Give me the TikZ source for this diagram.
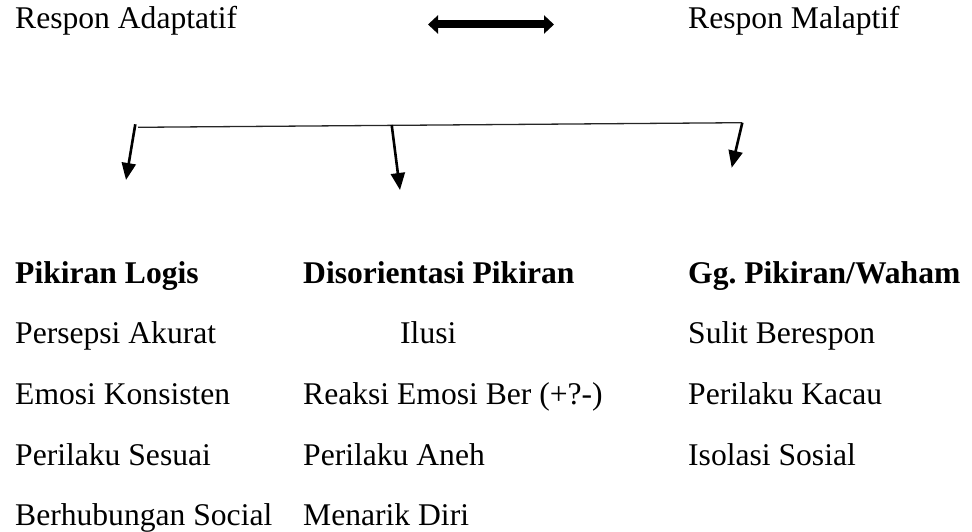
\documentclass[tikz,border=0pt]{standalone}
\usepackage{fontspec}
\setmainfont{Liberation Serif}
\usetikzlibrary{arrows.meta}
\frenchspacing
\begin{document}
\begin{tikzpicture}[x=1pt,y=-1pt,
  txt/.style={anchor=base west,inner sep=0pt,font=\fontsize{31.6}{38}\selectfont},
  hdr/.style={txt,font=\fontsize{31.6}{38}\selectfont\bfseries},
  bigarrow/.style={line width=8pt,{Triangle[length=10pt,width=18pt]}-{Triangle[length=10pt,width=18pt]}},
  branch/.style={line width=1.3pt,black!85},
  downarrow/.style={line width=2.6pt,-{Triangle[length=17pt,width=14pt]}}]
\useasboundingbox (0,0) rectangle (972,532);
\node[txt] (ra) at (15,29) {Respon Adaptatif};
\node[txt] (rm) at (688,29) {Respon Malaptif};
\coordinate (dl) at (428,24.5);
\coordinate (dr) at (554,24.5);
\draw[bigarrow] (dl) -- (dr);
% branch line
\coordinate (bl) at (138,127.3);
\coordinate (br) at (742,122.7);
\draw[branch] (bl) -- (br);
\coordinate (s1) at (135.3,124.3);
\coordinate (t1) at (126,180);
\coordinate (s2) at (391.7,125);
\coordinate (t2) at (400,190);
\coordinate (s3) at (742.3,122.7);
\coordinate (t3) at (731.7,167.7);
\draw[downarrow] (s1) -- (t1);
\draw[downarrow] (s2) -- (t2);
\draw[downarrow] (s3) -- (t3);
% headers
\node[hdr] (h1) at (15,283) {Pikiran Logis};
\node[hdr] (h2) at (303,283) {Disorientasi Pikiran};
\node[hdr] (h3) at (688,283) {Gg. Pikiran/Waham};
% column 1
\node[txt] (a1) at (15,343) {Persepsi Akurat};
\node[txt] (a2) at (15,404) {Emosi Konsisten};
\node[txt] (a3) at (15,465) {Perilaku Sesuai};
\node[txt] (a4) at (15,525) {Berhubungan Social};
% column 2
\node[txt] (b1) at (400,343) {Ilusi};
\node[txt] (b2) at (303,404) {Reaksi Emosi Ber (+?-)};
\node[txt] (b3) at (303,465) {Perilaku Aneh};
\node[txt] (b4) at (303,525) {Menarik Diri};
% column 3
\node[txt] (c1) at (688,343) {Sulit Berespon};
\node[txt] (c2) at (688,404) {Perilaku Kacau};
\node[txt] (c3) at (688,465) {Isolasi Sosial};
\end{tikzpicture}
\end{document}
